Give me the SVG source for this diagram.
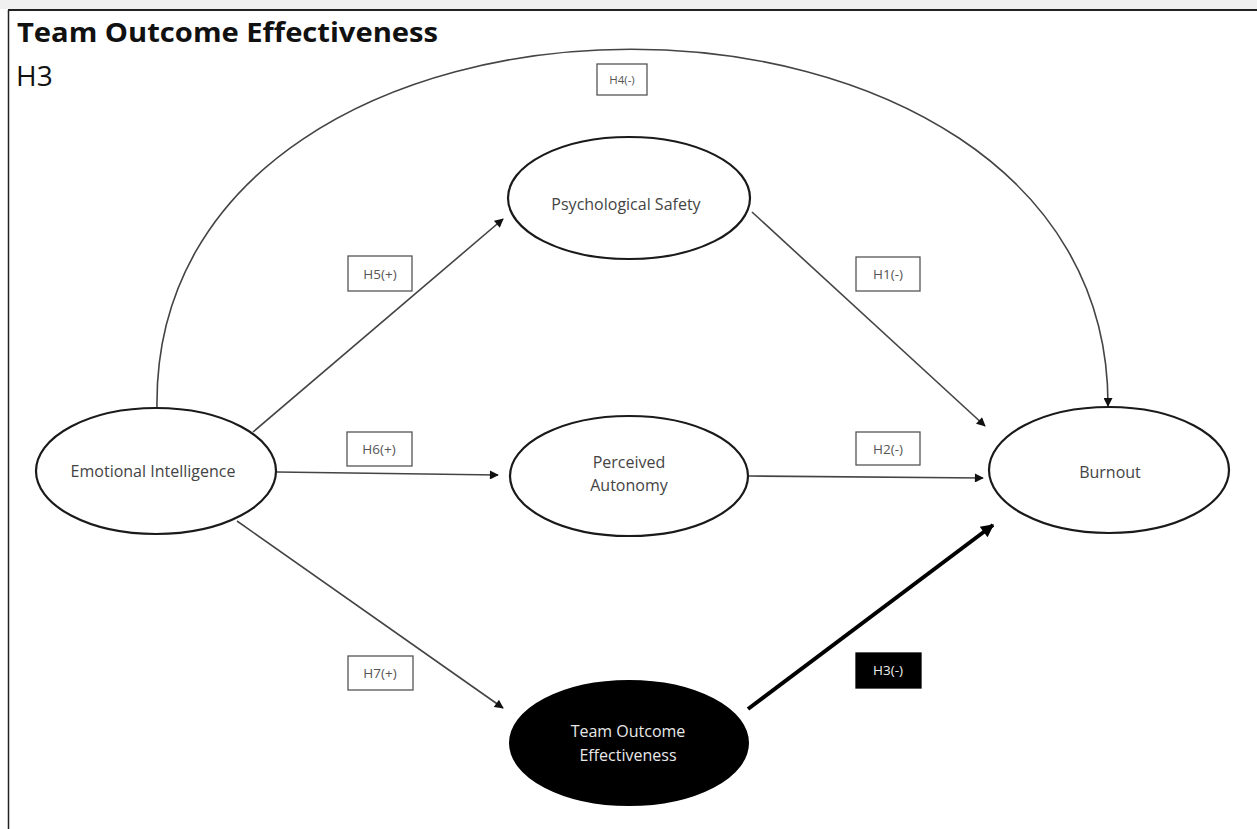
<svg xmlns="http://www.w3.org/2000/svg" width="1257" height="829" viewBox="0 0 1257 829">
  <style>
    .node { fill: #ffffff; stroke: #1a1a1a; stroke-width: 2.2; }
    .node-dark { fill: #000000; stroke: #000000; stroke-width: 2; }
    .node-text { font-family: "Open Sans", "Liberation Sans", sans-serif; font-size: 16px; fill: #444444; text-anchor: middle; }
    .node-text-light { font-family: "Open Sans", "Liberation Sans", sans-serif; font-size: 16px; fill: #e8e8e8; text-anchor: middle; }
    .edge { fill: none; stroke: #444444; stroke-width: 1.6; marker-end: url(#arrow); }
    .edge-bold { fill: none; stroke: #000000; stroke-width: 4; marker-end: url(#arrow-bold); }
    .tag { fill: #ffffff; stroke: #555555; stroke-width: 1.3; }
    .tag-dark { fill: #000000; stroke: #000000; stroke-width: 1.3; }
    .tag-text { font-family: "Open Sans", "Liberation Sans", sans-serif; font-size: 13.5px; fill: #555555; text-anchor: middle; }
    .tag-text-light { font-family: "Open Sans", "Liberation Sans", sans-serif; font-size: 13.5px; fill: #eeeeee; text-anchor: middle; }
    .title { font-family: "Open Sans", "Liberation Sans", sans-serif; font-size: 26px; font-weight: bold; fill: #111111; }
    .subtitle { font-family: "Open Sans", "Liberation Sans", sans-serif; font-size: 28px; fill: #111111; }
  </style>
  <defs>
    <marker id="arrow" viewBox="0 0 10 10" refX="9" refY="5" markerWidth="11" markerHeight="9" markerUnits="userSpaceOnUse" orient="auto">
      <path d="M0,0 L10,5 L0,10 z" fill="#111111"/>
    </marker>
    <marker id="arrow-bold" viewBox="0 0 10 10" refX="9" refY="5" markerWidth="15" markerHeight="13" markerUnits="userSpaceOnUse" orient="auto">
      <path d="M0,0 L10,5 L0,10 z" fill="#000000"/>
    </marker>
  </defs>

  <!-- page frame -->
  <rect x="0" y="0" width="1257" height="829" fill="#ffffff"/>
  <rect x="0" y="0" width="1257" height="9" fill="#f0f0f0"/>
  <line x1="8" y1="10" x2="1257" y2="10" stroke="#222222" stroke-width="2"/>
  <line x1="8.5" y1="10" x2="8.5" y2="829" stroke="#222222" stroke-width="1.5"/>

  <!-- heading -->
  <text class="title" x="17" y="42" textLength="421" lengthAdjust="spacingAndGlyphs">Team Outcome Effectiveness</text>
  <text class="subtitle" x="16" y="86">H3</text>

  <!-- connectors -->
  <g id="connectors">
    <path class="edge" d="M157,408 C150,-70 1110,-70 1108,406"/>
    <line class="edge" x1="253" y1="432" x2="503" y2="219"/>
    <line class="edge" x1="277" y1="472" x2="498" y2="475"/>
    <line class="edge" x1="237" y1="521" x2="503" y2="708"/>
    <line class="edge" x1="752" y1="212" x2="985" y2="426"/>
    <line class="edge" x1="749" y1="476" x2="983" y2="478"/>
    <line class="edge-bold" x1="748" y1="709" x2="993" y2="525"/>
  </g>

  <!-- hypothesis tags -->
  <g id="tag-h4"><rect class="tag" x="597" y="64" width="50" height="31"/><text class="tag-text" x="622" y="84" style="font-size:11.5px">H4(-)</text></g>
  <g id="tag-h5"><rect class="tag" x="348" y="256" width="64" height="35"/><text class="tag-text" x="380" y="279">H5(+)</text></g>
  <g id="tag-h6"><rect class="tag" x="347" y="432" width="65" height="34"/><text class="tag-text" x="379" y="454">H6(+)</text></g>
  <g id="tag-h7"><rect class="tag" x="348" y="656" width="65" height="34"/><text class="tag-text" x="380" y="678">H7(+)</text></g>
  <g id="tag-h1"><rect class="tag" x="856" y="257" width="64" height="34"/><text class="tag-text" x="888" y="279">H1(-)</text></g>
  <g id="tag-h2"><rect class="tag" x="856" y="432" width="64" height="33"/><text class="tag-text" x="888" y="454">H2(-)</text></g>
  <g id="tag-h3"><rect class="tag-dark" x="856" y="653" width="65" height="35"/><text class="tag-text-light" x="888" y="675">H3(-)</text></g>

  <!-- nodes -->
  <g id="node-emotional-intelligence">
    <ellipse class="node" cx="156" cy="471" rx="120" ry="63"/>
    <text class="node-text" x="153" y="477">Emotional Intelligence</text>
  </g>
  <g id="node-psychological-safety">
    <ellipse class="node" cx="629" cy="198" rx="121" ry="61"/>
    <text class="node-text" x="626" y="210">Psychological Safety</text>
  </g>
  <g id="node-perceived-autonomy">
    <ellipse class="node" cx="629" cy="476" rx="119" ry="60"/>
    <text class="node-text" x="629" y="468">Perceived</text>
    <text class="node-text" x="629" y="491">Autonomy</text>
  </g>
  <g id="node-burnout">
    <ellipse class="node" cx="1109" cy="470" rx="120" ry="63"/>
    <text class="node-text" x="1110" y="478">Burnout</text>
  </g>
  <g id="node-team-outcome-effectiveness">
    <ellipse class="node-dark" cx="629" cy="743" rx="119" ry="62"/>
    <text class="node-text-light" x="628" y="737">Team Outcome</text>
    <text class="node-text-light" x="628" y="761">Effectiveness</text>
  </g>
</svg>
